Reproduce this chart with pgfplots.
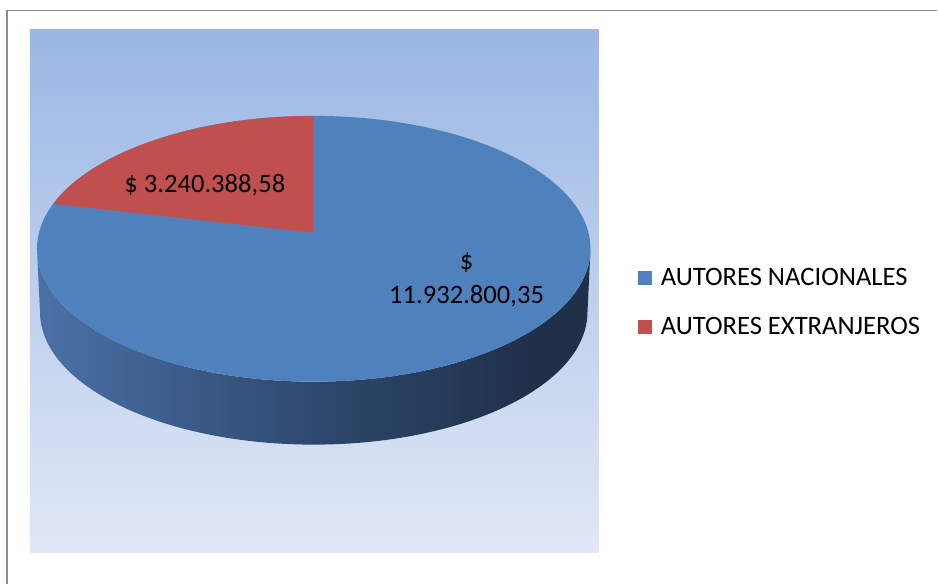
\documentclass[border=0pt]{standalone}
\usepackage{pgfplots}
\pgfplotsset{compat=1.18}
\usepackage{fontspec}
\setmainfont{Carlito}
\definecolor{nacblue}{RGB}{79,129,189}
\definecolor{extred}{RGB}{192,80,77}
\definecolor{bgtop}{RGB}{154,183,228}
\definecolor{bgbot}{RGB}{225,232,246}
\definecolor{frame}{RGB}{140,140,140}
\definecolor{sideA}{RGB}{74,113,167}
\definecolor{sideB}{RGB}{46,73,110}
\definecolor{sideC}{RGB}{31,48,73}
\pgfdeclarehorizontalshading{pieside}{100bp}{color(0bp)=(sideA); color(25bp)=(sideA); color(50bp)=(sideB); color(70bp)=(sideC); color(100bp)=(sideC)}
\begin{document}
\begin{tikzpicture}
% values (millions)
\def\vNac{11.93280035}
\def\vExt{3.24038858}
\pgfmathsetmacro\fr{\vExt/(\vNac+\vExt)}
\pgfmathsetmacro\phiend{90+360*\fr}
\pgfmathsetmacro\tpar{-sin(\phiend)}
\pgfmathsetmacro\den{1-0.1203*\tpar}
\pgfmathsetmacro\ptx{314+275*cos(\phiend)/\den}
\pgfmathsetmacro\ptyd{(233+103.05*\tpar)/\den}
\pgfmathsetmacro\psiend{atan2((249-\ptyd)/133,(\ptx-314)/277)}
\begin{axis}[
  scale only axis, width=469pt, height=292pt,
  xmin=0, xmax=938, ymin=0, ymax=584,
  hide axis, clip=false,
]
\path (0,0) rectangle (938,584);
% frame
\draw[frame, line width=0.8pt] (7,0) -- (7,573.5) -- (938,573.5);
% plot area
\shade[top color=bgtop, bottom color=bgbot] (30,31) rectangle (599,554);
% side
\shade[shading=pieside] (37,335) arc[start angle=180, end angle=360, x radius=138.5pt, y radius=66.5pt]
  -- (588,272) arc[start angle=0, end angle=-180, x radius=137pt, y radius=66.5pt] -- cycle;
% top face
\fill[nacblue] (314,335) ellipse[x radius=138.5pt, y radius=66.5pt];
\fill[extred] (314,351) -- (314,468) arc[start angle=90, end angle=\psiend, x radius=138.5pt, y radius=66.5pt] -- cycle;
% labels
\node[anchor=base, font=\fontsize{13.3pt}{16pt}\selectfont] at (205,391) {\$ 3.240.388,58};
\node[anchor=base, font=\fontsize{13.3pt}{16pt}\selectfont] at (467,314) {\$};
\node[anchor=base, font=\fontsize{13.3pt}{16pt}\selectfont] at (467,280) {11.932.800,35};
% legend
\fill[nacblue] (639,299) rectangle (653,313);
\fill[extred] (639,250) rectangle (653,264);
\node[anchor=base west, inner sep=0pt, font=\fontsize{13.3pt}{16pt}\selectfont] at (661,298) {AUTORES NACIONALES};
\node[anchor=base west, inner sep=0pt, font=\fontsize{13.3pt}{16pt}\selectfont] at (661,249.3) {AUTORES EXTRANJEROS};
\end{axis}
\end{tikzpicture}
\end{document}
